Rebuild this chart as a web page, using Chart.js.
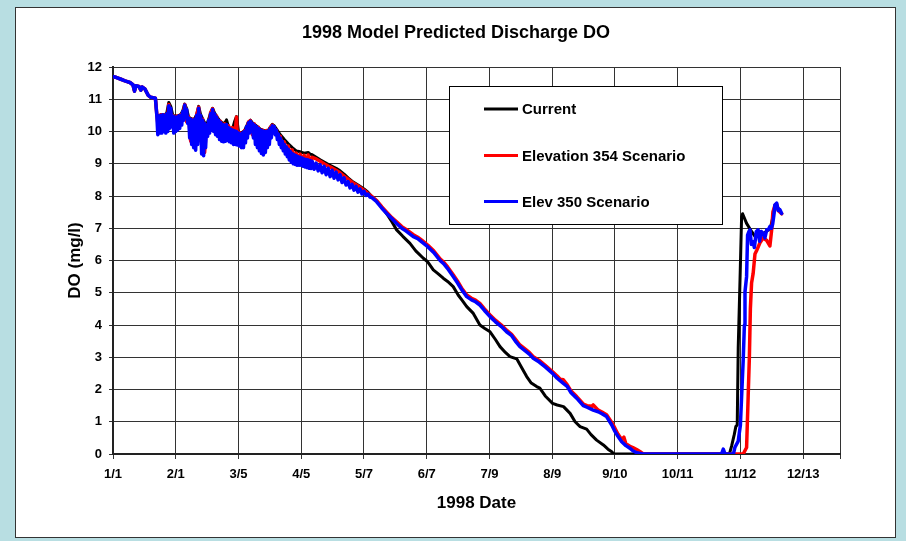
<!DOCTYPE html>
<html>
<head>
<meta charset="utf-8">
<title>1998 Model Predicted Discharge DO</title>
<script src="https://cdn.jsdelivr.net/npm/chart.js@4.4.1/dist/chart.umd.min.js"></script>
<style>
  html, body { margin: 0; padding: 0; background: #b8dee2; }
  canvas { display: block; }
</style>
</head>
<body>
<canvas id="chart" width="906" height="541"></canvas>
<script>
// Day of year 1998 (0 = Jan 1) and dissolved oxygen (mg/l)
const tickDays   = [0, 31.5, 63, 94.5, 126, 157.5, 189, 220.5, 252, 283.5, 315, 346.5];
const tickLabels = ['1/1','2/1','3/5','4/5','5/7','6/7','7/9','8/9','9/10','10/11','11/12','12/13'];
const seriesNames = ['Current', 'Elevation 354 Scenario', 'Elev 350 Scenario'];

// January: all three runs coincide
const januaryDO = [[0,11.7],[1.5,11.68],[4,11.62],[6,11.57],[8.5,11.52],[10,11.45],[10.8,11.25],
  [11.5,11.42],[13,11.4],[14,11.28],[14.6,11.38],[16,11.32],[17.7,11.12],[19,11.06],[21.3,11.03]];

const currentDO = januaryDO.concat([[22,10.52],[23,10.48],[24,10.52],[26,10.52],[27,10.57],[28,10.9],
  [29,10.78],[30,10.5],[32,10.47],[34,10.52],[35,10.64],[36,10.85],[37,10.7],[38,10.44],[40,10.37],
  [41,10.4],[42,10.52],[43,10.78],[44,10.52],[46,10.27],[47,10.2],[48,10.37],[49,10.57],[50,10.72],
  [51,10.57],[52,10.47],[54,10.3],[56,10.24],[57,10.36],[58,10.14],[60,10.07],[61,10.3],[62,10.46],
  [63,10.0],[64,9.94],[66,10.02],[68,10.29],[69,10.35],[70,10.27],[72,10.17],[74,10.07],[76,10.02],
  [78,10.04],[80,10.22],[81,10.17],[82,10.08],[84,9.9],[86,9.75],[88,9.62],[90,9.5],[92,9.4],[94,9.37],
  [96,9.33],[98,9.35],[99,9.3],[100,9.28],[102,9.2],[104,9.12],[106,9.05],[108,8.98],[110,8.92],
  [112,8.86],[114,8.78],[116,8.68],[118,8.56],[120,8.46],[122,8.38],[124,8.3],[126,8.22],[128,8.12],
  [130,7.98],[132.4,7.84],[135,7.64],[137.4,7.45],[140,7.2],[142.4,6.95],[145.5,6.75],[149.1,6.53],
  [152,6.3],[155.8,6.07],[158,5.96],[160.8,5.71],[163,5.6],[165.8,5.45],[168,5.35],[170.8,5.19],
  [173.3,4.93],[175.5,4.75],[177.6,4.57],[180.9,4.36],[184.2,4.0],[186.5,3.9],[189.3,3.79],[192,3.55],
  [194.3,3.33],[197,3.15],[199.3,3.02],[202.7,2.95],[205,2.7],[207.7,2.4],[210,2.2],[212.7,2.09],
  [214.3,2.04],[217,1.8],[220.7,1.57],[223,1.52],[226.2,1.47],[229.5,1.26],[232,1.0],[234.5,0.85],
  [237.8,0.77],[240,0.6],[242.8,0.43],[246.2,0.28],[248.5,0.15],[250.4,0.07],[251.5,0],[309.2,0],
  [309.7,0.05],[310.6,0.25],[311.9,0.6],[312.7,0.85],[313.4,0.9],[313.9,3.3],[314.8,5.4],[315.6,7.36],
  [316.1,7.45],[318.1,7.15],[320.6,6.9],[322.3,6.75],[324.8,6.8],[327,6.85],[330,7.0],[332.3,7.6],
  [333.2,7.7],[335.7,7.45]]);

const elev354DO = januaryDO.concat([[22,10.52],[23,10.0],[24,10.52],[25,10.05],[26,10.52],[27,10.05],
  [28,10.84],[29,10.2],[30,10.5],[31,10.05],[32,10.48],[33,10.15],[34,10.52],[35,10.4],[36,10.84],
  [37,10.3],[38,10.45],[39,9.7],[40,10.38],[41,9.5],[42,10.52],[43,10.75],[44,9.7],[45,10.38],[46,9.35],
  [47,10.2],[48,9.95],[49,10.58],[50,10.7],[51,10.0],[52,10.48],[53,9.85],[54,10.32],[55,9.8],[56,10.24],
  [57,9.8],[58,10.18],[59,9.75],[60,10.12],[61,9.75],[62,10.45],[62.5,9.74],[63,9.98],[64,9.95],[65,9.6],
  [66,10.03],[67,9.9],[68,10.29],[69,10.34],[70,9.9],[71,10.23],[72,9.6],[73,10.13],[74,9.45],[75,10.05],
  [76,9.4],[77,10.03],[78,9.7],[79,10.13],[80,10.2],[81,10.0],[82,10.05],[83,9.75],[84,9.85],[85,9.5],
  [86,9.68],[87,9.4],[88,9.55],[89,9.2],[90,9.43],[91,9.15],[92,9.33],[93,9.1],[94,9.3],[95,9.05],
  [96,9.26],[97,9.02],[98,9.27],[99,9.0],[100,9.2],[102,9.15],[104,9.08],[106,9.0],[108,8.93],[110,8.87],
  [112,8.8],[114,8.72],[116,8.62],[118,8.52],[120,8.43],[122,8.35],[124,8.27],[126,8.18],[128,8.08],
  [130,7.98],[132.4,7.86],[135,7.66],[137.4,7.5],[140,7.33],[142.4,7.2],[145,7.05],[147,6.97],[150.8,6.8],
  [153,6.72],[155,6.63],[158,6.48],[161,6.3],[164.2,6.05],[166,5.95],[168,5.8],[170.8,5.56],[173,5.36],
  [175,5.15],[177.6,4.93],[180,4.83],[182,4.77],[184.2,4.67],[186.5,4.5],[189.3,4.31],[192,4.15],[195,4.0],
  [197.6,3.84],[200,3.72],[202,3.56],[204.3,3.38],[207,3.25],[209,3.15],[211,3.02],[214,2.9],[217,2.75],
  [220.7,2.55],[223,2.42],[224.5,2.32],[226.1,2.3],[228,2.15],[230,1.95],[232.8,1.78],[236.1,1.55],
  [238,1.5],[240.5,1.48],[241.1,1.52],[243.6,1.36],[245.5,1.3],[247.8,1.22],[250.4,0.98],[252,0.8],
  [253.5,0.62],[255.4,0.45],[256.5,0.52],[257.5,0.32],[259.5,0.24],[261,0.2],[262.9,0.14],[264.5,0.08],
  [266.2,0],[316.4,0],[318.1,0.2],[318.9,1.8],[319.5,3.0],[320,4.5],[320.6,5.3],[321.4,5.6],[322.3,6.2],
  [323.1,6.3],[324.8,6.55],[326.4,6.7],[328.1,6.63],[329.8,6.45],[330.7,6.95],[331.3,7.5],[332.3,7.7],
  [333.2,7.75],[334,7.55],[335.7,7.45]]);

const elev350DO = januaryDO.concat([[22,10.5],[22.5,9.9],[23,10.48],[23.5,9.95],[24,10.5],[24.5,9.95],
  [25,10.52],[25.5,10.0],[26,10.5],[26.5,9.95],[27,10.55],[27.5,10.0],[28,10.8],[28.5,10.1],[29,10.72],
  [29.5,10.15],[30,10.48],[30.5,9.95],[31,10.45],[31.5,10.0],[32,10.45],[32.5,10.05],[33,10.48],
  [33.5,10.1],[34,10.5],[34.5,10.2],[35,10.62],[35.5,10.35],[36,10.82],[36.5,10.45],[37,10.68],
  [37.5,10.25],[38,10.42],[38.5,9.8],[39,10.38],[39.5,9.6],[40,10.35],[40.5,9.5],[41,10.38],[41.5,9.42],
  [42,10.5],[42.5,9.6],[43,10.72],[43.5,9.9],[44,10.5],[44.5,9.3],[45,10.35],[45.5,9.25],[46,10.25],
  [46.5,9.5],[47,10.18],[47.5,9.85],[48,10.35],[48.5,9.95],[49,10.55],[49.5,10.05],[50,10.68],[50.5,10.0],
  [51,10.55],[51.5,9.9],[52,10.45],[52.5,9.85],[53,10.35],[53.5,9.75],[54,10.28],[54.5,9.7],[55,10.22],
  [55.5,9.68],[56,10.2],[56.5,9.7],[57,10.22],[57.5,9.72],[58,10.12],[58.5,9.68],[59,10.08],[59.5,9.65],
  [60,10.05],[60.5,9.6],[61,10.02],[61.5,9.6],[62,10.0],[62.5,9.58],[63,9.95],[63.5,9.55],[64,9.92],
  [64.5,9.5],[65,9.95],[65.5,9.5],[66,10.0],[66.5,9.65],[67,10.15],[67.5,9.8],[68,10.27],[68.5,9.95],
  [69,10.32],[69.5,10.0],[70,10.25],[70.5,9.8],[71,10.2],[71.5,9.6],[72,10.15],[72.5,9.5],[73,10.1],
  [73.5,9.4],[74,10.05],[74.5,9.32],[75,10.02],[75.5,9.27],[76,10.0],[76.5,9.35],[77,10.0],[77.5,9.5],
  [78,10.02],[78.5,9.6],[79,10.1],[79.5,9.8],[80,10.18],[80.5,9.95],[81,10.15],[81.5,9.9],[82,10.05],
  [82.5,9.75],[83,9.92],[83.5,9.6],[84,9.8],[84.5,9.5],[85,9.7],[85.5,9.4],[86,9.6],[86.5,9.3],[87,9.52],
  [87.5,9.22],[88,9.45],[88.5,9.12],[89,9.38],[89.5,9.05],[90,9.32],[90.5,9.0],[91,9.28],[91.5,8.98],
  [92,9.25],[92.5,8.95],[93,9.22],[93.5,8.95],[94,9.2],[94.5,8.95],[95,9.18],[95.5,8.92],[96,9.15],
  [96.5,8.9],[97,9.13],[97.5,8.88],[98,9.12],[98.5,8.86],[99,9.1],[99.5,8.85],[100,9.08],[101,8.83],
  [102,9.02],[103,8.78],[104,8.97],[105,8.72],[106,8.92],[107,8.66],[108,8.86],[109,8.6],[110,8.8],
  [111,8.55],[112,8.74],[113,8.5],[114,8.66],[115,8.42],[116,8.56],[117,8.34],[118,8.45],[119,8.25],
  [120,8.36],[121,8.18],[122,8.3],[123,8.12],[124,8.22],[125,8.06],[126,8.15],[127,8.02],[128,8.06],
  [129,7.97],[130,7.95],[132.4,7.82],[135,7.62],[137.4,7.46],[140,7.3],[142.4,7.15],[145,7.0],[147,6.92],
  [150.8,6.74],[153,6.68],[155,6.58],[158,6.43],[161,6.25],[164.2,6.0],[166,5.9],[168,5.75],[170.8,5.5],
  [173,5.3],[175,5.1],[177.6,4.88],[180,4.78],[182,4.72],[184.2,4.62],[186.5,4.45],[189.3,4.26],[192,4.1],
  [195,3.95],[197.6,3.79],[200,3.68],[202,3.5],[204.3,3.33],[207,3.2],[209,3.1],[211,2.97],[214,2.85],
  [217,2.7],[220.7,2.5],[223,2.35],[226.1,2.19],[228,2.1],[230,1.9],[232.8,1.73],[236.1,1.5],[238,1.45],
  [241.1,1.36],[243.6,1.31],[245.5,1.25],[247.8,1.16],[250.4,0.9],[252,0.7],[253.5,0.55],[255.4,0.38],
  [257.5,0.26],[259.5,0.18],[261,0.1],[262.9,0.04],[266,0],[305.5,0],[306.4,0.15],[307.3,0],[311.5,0],
  [312.2,0.2],[313.9,0.4],[315,0.9],[315.6,1.78],[316.4,2.91],[317,4.0],[317.3,5.03],[318.1,5.5],
  [318.6,6.79],[319.3,6.9],[319.8,6.95],[320.5,6.5],[321.4,6.58],[322,6.4],[323,6.9],[323.9,6.95],
  [324.6,6.6],[325.5,6.9],[326.4,6.85],[327.3,6.7],[328.2,6.95],[329,6.95],[329.8,7.05],[330.6,7.0],
  [331.2,7.13],[331.8,7.4],[332.3,7.72],[333.2,7.78],[334,7.55],[334.8,7.58],[335.7,7.46]]);

const seriesColors = ['#000000', '#ff0000', '#0000ff'];
const FONT = "'Liberation Sans', Arial, Helvetica, sans-serif";

const toPoints = arr => arr.map(([x, y]) => ({ x, y }));

// Light blue page with the white chart panel
const panelPlugin = {
  id: 'panel',
  beforeDraw(chart) {
    const ctx = chart.ctx;
    ctx.save();
    ctx.fillStyle = '#b8dee2';
    ctx.fillRect(0, 0, chart.width, chart.height);
    ctx.fillStyle = '#ffffff';
    ctx.fillRect(15, 7, 881, 531);
    ctx.strokeStyle = '#333333';
    ctx.lineWidth = 1;
    ctx.strokeRect(15.5, 7.5, 880, 530);
    ctx.restore();
  }
};

// Title, axis titles and the boxed legend inside the plot
const textPlugin = {
  id: 'texts',
  afterDraw(chart) {
    const ctx = chart.ctx;
    const area = chart.chartArea;
    ctx.save();
    ctx.fillStyle = '#000';
    ctx.textAlign = 'center';
    ctx.textBaseline = 'middle';
    ctx.font = `bold 18px ${FONT}`;
    ctx.fillText('1998 Model Predicted Discharge DO', 456, 33);

    ctx.font = `bold 17px ${FONT}`;
    ctx.fillText('1998 Date', (area.left + area.right) / 2, 503);
    ctx.save();
    ctx.translate(75, (area.top + area.bottom) / 2);
    ctx.rotate(-Math.PI / 2);
    ctx.fillText('DO (mg/l)', 0, 0);
    ctx.restore();

    // legend box
    const bx = 449.5, by = 86.5, bw = 273, bh = 138;
    ctx.fillStyle = '#fff';
    ctx.fillRect(bx, by, bw, bh);
    ctx.strokeStyle = '#000';
    ctx.lineWidth = 1;
    ctx.strokeRect(bx, by, bw, bh);
    const rows = [109, 155.5, 201.5];
    ctx.font = `bold 15px ${FONT}`;
    ctx.textAlign = 'left';
    seriesNames.forEach((name, i) => {
      ctx.strokeStyle = seriesColors[i];
      ctx.lineWidth = 3;
      ctx.beginPath();
      ctx.moveTo(484, rows[i]);
      ctx.lineTo(518, rows[i]);
      ctx.stroke();
      ctx.fillStyle = '#000';
      ctx.fillText(name, 522, rows[i] + 1);
    });
    ctx.restore();
  }
};

new Chart(document.getElementById('chart'), {
  type: 'line',
  data: {
    datasets: [
      { label: seriesNames[0], data: toPoints(currentDO), borderColor: seriesColors[0], borderWidth: 3, order: 3 },
      { label: seriesNames[1], data: toPoints(elev354DO), borderColor: seriesColors[1], borderWidth: 3.5, order: 2 },
      { label: seriesNames[2], data: toPoints(elev350DO), borderColor: seriesColors[2], borderWidth: 3.5, order: 1 }
    ]
  },
  options: {
    responsive: false,
    animation: false,
    devicePixelRatio: 1,
    layout: { padding: { left: 0, top: 67, right: 66, bottom: 0 } },
    elements: {
      point: { radius: 0, hoverRadius: 0 },
      line: { tension: 0, borderJoinStyle: 'round', borderCapStyle: 'round', fill: false }
    },
    plugins: {
      legend: { display: false },
      title: { display: false },
      tooltip: { enabled: false }
    },
    scales: {
      x: {
        type: 'linear',
        min: 0,
        max: 365,
        afterFit(scale) { scale.height = 87; },
        afterBuildTicks(scale) {
          scale.ticks = tickDays.map(v => ({ value: v })).concat([{ value: 365 }]);
        },
        grid: { color: '#333333', lineWidth: 1, tickLength: 5, drawTicks: true },
        border: { color: '#222222', width: 2 },
        ticks: {
          autoSkip: false,
          maxRotation: 0,
          padding: 8,
          color: '#000',
          font: { family: FONT, size: 13, weight: 'bold' },
          callback: (value, index) => tickLabels[index] ?? ''
        }
      },
      y: {
        min: 0,
        max: 12,
        afterFit(scale) { scale.width = 113; },
        grid: { color: '#333333', lineWidth: 1, tickLength: 4 },
        border: { color: '#222222', width: 2 },
        ticks: {
          stepSize: 1,
          padding: 7,
          color: '#000',
          font: { family: FONT, size: 13, weight: 'bold' }
        }
      }
    }
  },
  plugins: [panelPlugin, textPlugin]
});
</script>
</body>
</html>
